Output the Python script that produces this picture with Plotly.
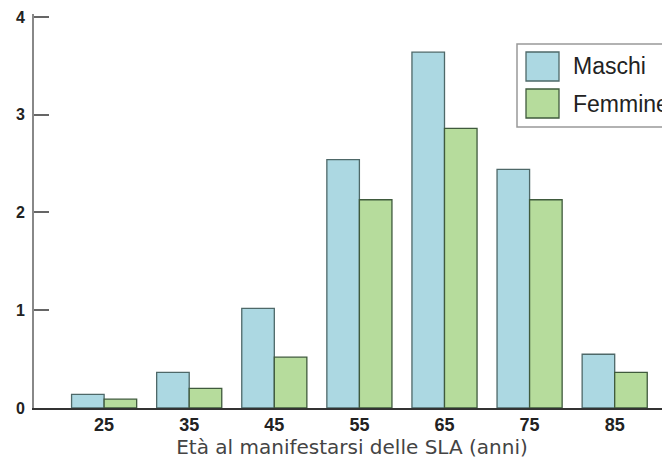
import plotly.graph_objects as go

ages = [25, 35, 45, 55, 65, 75, 85]
maschi = [0.14, 0.365, 1.02, 2.54, 3.64, 2.44, 0.55]
femmine = [0.09, 0.20, 0.52, 2.13, 2.86, 2.13, 0.365]
y_ticks = [0, 1, 2, 3, 4]
series_names = ["Maschi", "Femmine"]
x_title = "Età al manifestarsi delle SLA (anni)"

# page body has an 8px default margin; compensate so the chart fills 670x461
OFF = 8
W, H = 670 - OFF, 461 - OFF
L, R, T, B = 34 - OFF, 0, 14 - OFF, 461 - 408
PW, PH = W - L - R, H - T - B

def px(x):
    return (x - OFF - L) / PW

def py(y):
    return (H - B - (y - OFF)) / PH

male_fill, male_line = "#acd8e2", "#4e6868"
fem_fill, fem_line = "#b6dc9c", "#3f5a3c"

fig = go.Figure()
fig.add_trace(go.Bar(x=ages, y=maschi, name=series_names[0],
                     marker=dict(color=male_fill, line=dict(color=male_line, width=1.3))))
fig.add_trace(go.Bar(x=ages, y=femmine, name=series_names[1],
                     marker=dict(color=fem_fill, line=dict(color=fem_line, width=1.3))))

fig.update_layout(
    width=W, height=H,
    margin=dict(l=L, r=R, t=T, b=B),
    paper_bgcolor="white", plot_bgcolor="white",
    barmode="group", bargap=0.235, bargroupgap=0,
    showlegend=False,
    font=dict(family="Liberation Sans, Arial, sans-serif", color="#222"),
)
fig.update_xaxes(
    range=[16.76, 91.5], tickvals=ages, ticktext=[str(a) for a in ages],
    showline=True, linecolor="#333", linewidth=1.5, ticks="", showgrid=False, zeroline=False,
    tickfont=dict(family="Liberation Sans, Arial, sans-serif", size=18, color="#222", weight="bold"),
    title=dict(text=x_title, standoff=6,
               font=dict(family="DejaVu Sans", size=20, color="#444")),
)
fig.update_yaxes(
    range=[0, 4.03], tickvals=y_ticks, ticks="inside", ticklen=15, tickwidth=1.5, tickcolor="#666",
    showline=True, linecolor="#888", linewidth=2, showgrid=False, zeroline=False,
    ticklabelstandoff=4, ticklabeloverflow="allow",
    tickfont=dict(family="Liberation Sans, Arial, sans-serif", size=16, color="#222", weight="bold"),
)

# custom legend
fig.add_shape(type="rect", xref="paper", yref="paper",
              x0=px(517), x1=px(680), y0=py(127), y1=py(44),
              line=dict(color="#999", width=1.5), fillcolor="white", layer="above")
for (yt, yb), fill, line, name in [((52, 81), male_fill, male_line, series_names[0]),
                                   ((89, 118), fem_fill, fem_line, series_names[1])]:
    fig.add_shape(type="rect", xref="paper", yref="paper",
                  x0=px(526), x1=px(559), y0=py(yb), y1=py(yt),
                  line=dict(color=line, width=1.3), fillcolor=fill, layer="above")
    fig.add_annotation(xref="paper", yref="paper", x=px(571), y=py((yt + yb) / 2),
                       text=name, showarrow=False, xanchor="left", yanchor="middle",
                       font=dict(family="Liberation Sans, Arial, sans-serif", size=23, color="#222"))

fig.write_html("out.html")
